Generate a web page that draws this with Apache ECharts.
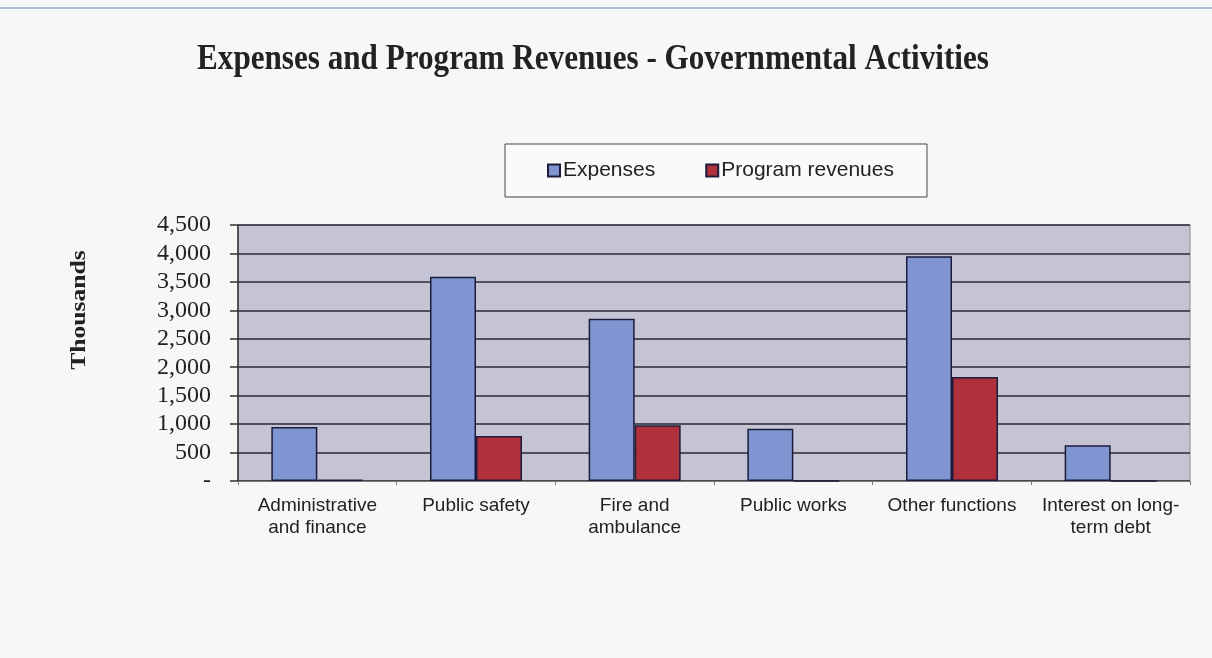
<!DOCTYPE html>
<html>
<head>
<meta charset="utf-8">
<script src="https://cdn.jsdelivr.net/npm/echarts@6/dist/echarts.min.js"></script>
<style>
html,body{margin:0;padding:0;background:#f7f7f7;}
#c{width:1212px;height:658px;}
</style>
</head>
<body>
<div id="c"></div>
<script>
const categories = ["Administrative\nand finance", "Public safety", "Fire and\nambulance", "Public works", "Other functions", "Interest on long-\nterm debt"];
const expenses = [950, 3590, 2850, 920, 3950, 630];
const programRevenues = [25, 790, 980, 0, 1830, 0];
const yTicks = [0, 500, 1000, 1500, 2000, 2500, 3000, 3500, 4000, 4500];

const chart = echarts.init(document.getElementById('c'));
chart.setOption({
  backgroundColor: '#f7f7f7',
  animation: false,
  graphic: [
    {type: 'line', shape: {x1: 0, y1: 8, x2: 1212, y2: 8}, style: {stroke: '#aebfd8', lineWidth: 2}},
    {type: 'text', x: 593, y: 60, scaleX: 0.89,
     style: {text: 'Expenses and Program Revenues - Governmental Activities', align: 'center', verticalAlign: 'middle',
       font: 'bold 35px "Liberation Serif"', fill: '#222'}},
    {type: 'text', x: 80, y: 310, rotation: Math.PI / 2, scaleX: 1.22,
     style: {text: 'Thousands', align: 'center', verticalAlign: 'middle',
       font: 'bold 21px "Liberation Serif"', fill: '#222'}}
  ],
  legend: {
    data: ['Expenses', 'Program revenues'],
    left: 505, top: 144,
    padding: [16, 33, 16, 42],
    itemGap: 50,
    borderColor: '#444', borderWidth: 1, backgroundColor: '#fafafa',
    icon: 'rect', itemWidth: 12, itemHeight: 12,
    textStyle: {fontFamily: 'Liberation Sans', fontSize: 21, color: '#222', padding: [0, 0, 0, -2]}
  },
  grid: {left: 238, right: 22, top: 225, bottom: 177, show: true, backgroundColor: '#c4c4d4', borderColor: '#888', borderWidth: 1},
  xAxis: {
    type: 'category', data: categories,
    axisLine: {lineStyle: {color: '#777', width: 1}},
    axisTick: {show: true, length: 4, lineStyle: {color: '#777'}},
    axisLabel: {interval: 0, margin: 14, fontFamily: 'Liberation Sans', fontSize: 19, color: '#222', lineHeight: 22}
  },
  yAxis: {
    type: 'value', min: 0, max: 4500, interval: 500,
    axisLine: {show: true, lineStyle: {color: '#333', width: 1.5}},
    axisTick: {show: true, length: 8, inside: false, lineStyle: {color: '#333', width: 1.5}},
    splitLine: {lineStyle: {color: '#2a2a35', width: 1.5}},
    axisLabel: {margin: 27, fontFamily: 'Liberation Serif', fontSize: 24, color: '#222',
      formatter: v => v === 0 ? '-' : v.toLocaleString('en-US')}
  },
  series: [
    {name: 'Expenses', type: 'bar', data: expenses, barWidth: 46, barGap: '0%',
     itemStyle: {color: '#7f96d2', borderColor: '#1c1c3a', borderWidth: 1.5}},
    {name: 'Program revenues', type: 'bar', data: programRevenues, barWidth: 46,
     itemStyle: {color: '#b0303c', borderColor: '#1c1c3a', borderWidth: 1.5}}
  ]
});
</script>
</body>
</html>
